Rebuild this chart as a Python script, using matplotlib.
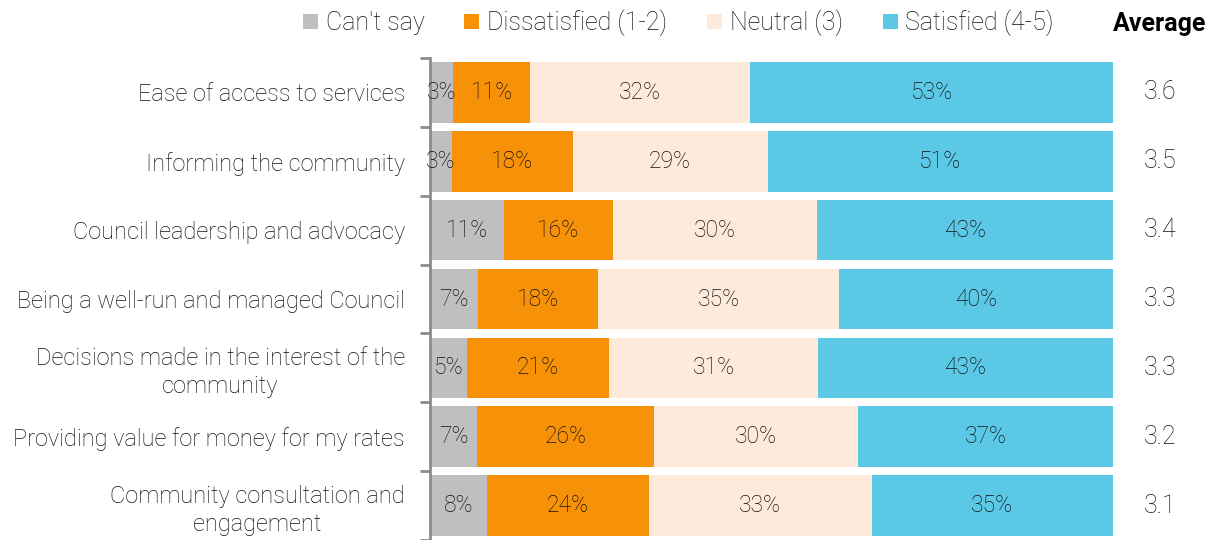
import numpy as np
import matplotlib.pyplot as plt
from matplotlib.patches import Patch

# data (shares in %, unrounded estimates)
categories = ["Ease of access to services",
              "Informing the community",
              "Council leadership and advocacy",
              "Being a well-run and managed Council",
              "Decisions made in the interest of the\ncommunity",
              "Providing value for money for my rates",
              "Community consultation and\nengagement"]
cant_say = [3.4, 3.2, 10.8, 7.0, 5.4, 6.9, 8.4]
dissatisfied = [11.3, 17.7, 16.0, 17.6, 20.9, 25.9, 23.6]
neutral = [32.2, 28.6, 29.9, 35.3, 30.6, 29.9, 32.6]
satisfied = [53.1, 50.6, 43.3, 40.1, 43.2, 37.3, 35.3]
averages = [3.6, 3.5, 3.4, 3.3, 3.3, 3.2, 3.1]

series_names = ["Can't say", "Dissatisfied (1-2)", "Neutral (3)", "Satisfied (4-5)"]
colors = ["#BFBFBF", "#F79108", "#FDEADA", "#5BC8E6"]

plt.rcParams['font.family'] = ['Roboto', 'DejaVu Sans']
txt_col = "#111111"

fig = plt.figure(figsize=(12.15, 5.4), dpi=100)
ax = fig.add_axes([430 / 1215, 0.0, 683 / 1215, 1 - 58 / 540])

data = np.array([cant_say, dissatisfied, neutral, satisfied])
totals = data.sum(axis=0)
shares = data / totals * 100  # bars fill the full width
y = np.arange(len(categories))

left = np.zeros(len(categories))
for i in range(len(series_names)):
    ax.barh(y, shares[i], left=left, height=0.88, color=colors[i],
            edgecolor='none', label=series_names[i])
    for j in range(len(categories)):
        ax.text(left[j] + shares[i][j] / 2, y[j], f"{data[i][j]:.0f}%",
                ha='center', va='center', fontsize=16.5, color=txt_col,
                fontweight='light')
    left = left + shares[i]

# averages column
for j in range(len(categories)):
    ax.text((1160 - 430) / 683, y[j], f"{averages[j]:.1f}",
            transform=ax.get_yaxis_transform(), ha='center', va='center',
            fontsize=18, color=txt_col, fontweight='light', clip_on=False)
fig.text(1160 / 1215, 1 - 24 / 540, "Average", ha='center', va='center',
         fontsize=18, fontweight='bold', color='black')

ax.set_xlim(0, 100)
ax.set_ylim(len(categories) - 0.53, -0.5)
ax.set_yticks(y)
ax.set_yticklabels(categories, fontsize=17, color=txt_col, fontweight='light',
                   multialignment='center', linespacing=1.25)
ax.set_yticks(np.arange(-0.5, len(categories), 1), minor=True)
ax.tick_params(axis='y', which='major', length=0, pad=18)
ax.tick_params(axis='y', which='minor', length=7, width=2, color='#8C8C8C',
               direction='out')
ax.set_xticks([])
for s in ['top', 'right', 'bottom']:
    ax.spines[s].set_visible(False)
ax.spines['left'].set_color('#8C8C8C')
ax.spines['left'].set_linewidth(2)

handles = [Patch(facecolor=c, edgecolor='none') for c in colors]
leg = fig.legend(handles, series_names, loc='center right',
                 bbox_to_anchor=(1076 / 1215, 1 - 23 / 540), ncol=4,
                 frameon=False, handlelength=0.6, handleheight=0.6,
                 handletextpad=0.3, columnspacing=1.6,
                 prop={'size': 18, 'weight': 'light'})
for t in leg.get_texts():
    t.set_color(txt_col)

fig.savefig("out.png", dpi=100)
